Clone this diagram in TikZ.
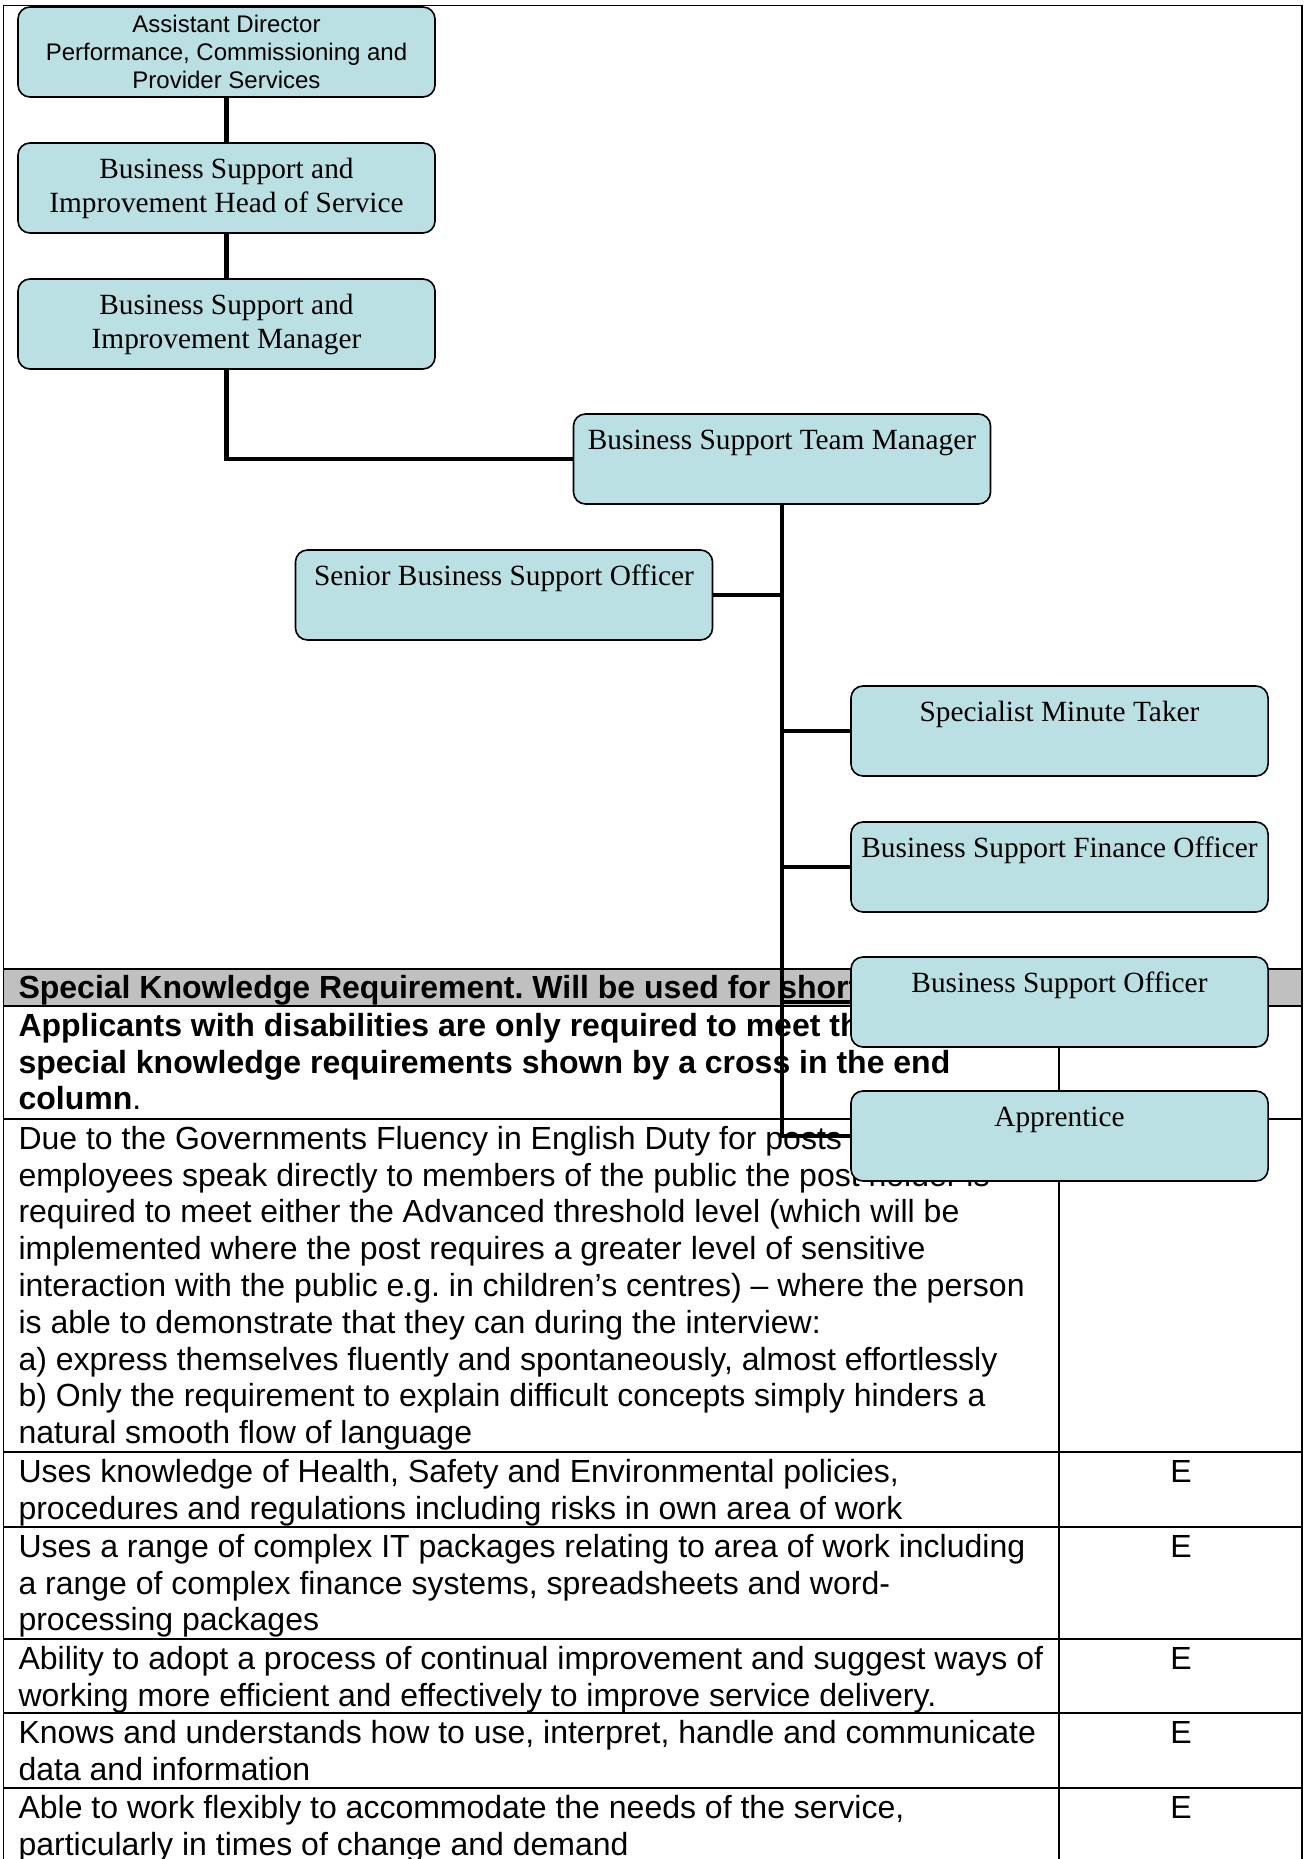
\documentclass[tikz,border=0pt]{standalone}
\usepackage{fontspec}
\setmainfont{Liberation Serif}
\newfontfamily\arialfont{Liberation Sans}
\usetikzlibrary{calc,positioning}
\frenchspacing
\definecolor{postfill}{RGB}{186,224,227}
\definecolor{headfill}{RGB}{192,192,192}
\newcommand{\postfont}{\fontsize{11pt}{12.75pt}\selectfont}
\newcommand{\chieffont}{\arialfont\fontsize{9pt}{10.35pt}\selectfont}
\newcommand{\cellfont}{\arialfont\fontsize{12pt}{13.8pt}\selectfont}
\tikzset{
post/.style={draw, line width=0.6pt, fill=postfill, rounded corners=4.5pt,
  minimum width=156.4pt, minimum height=33.75pt, inner sep=0pt, align=center, font=\postfont},
posttop/.style={post, text height=8pt, text depth=15.5pt},
link/.style={line width=1.8pt},
gridline/.style={line width=0.5pt},
cell/.style={anchor=north west, inner sep=0pt, align=left, font=\cellfont},
ecell/.style={anchor=base, inner sep=0pt, font=\cellfont}
}

\begin{document}
\begin{tikzpicture}[x=0.375pt, y=-0.375pt]
\useasboundingbox (0,0) rectangle (1304,1859);
\clip (0,0) rectangle (1304,1859);
%table behind the chart
\fill [headfill] (3.5,969) rectangle (1302,1006);
\draw [gridline] (3.5,5.5) -- (1302,5.5);
\draw [gridline] (3.5,5.5) -- (3.5,1859);
\draw [gridline] (1302,5.5) -- (1302,1859);
\foreach \y in {969,1006,1119}
  \draw [line width=0.8pt] (3.5,\y) -- (1302,\y);
\foreach \y in {1452,1527,1639,1713,1788}
  \draw [gridline] (3.5,\y) -- (1302,\y);
\draw [gridline] (1059,1006) -- (1059,1859);
\node [cell, font=\cellfont\bfseries] (head) at (18,972) {\strut Special Knowledge Requirement. Will be used for shortlisting};
\node [cell] (r2) at (18,1010) {\strut\textbf{Applicants with disabilities are only required to meet the}\\
  \textbf{special knowledge requirements shown by a cross in the end}\\
  \textbf{column}.};
\node [cell] (r3) at (18,1123) {\strut Due to the Governments Fluency in English Duty for posts where\\
  employees speak directly to members of the public the post holder is\\
  required to meet either the Advanced threshold level (which will be\\
  implemented where the post requires a greater level of sensitive\\
  interaction with the public e.g. in children’s centres) – where the person\\
  is able to demonstrate that they can during the interview:\\
  a) express themselves fluently and spontaneously, almost effortlessly\\
  b) Only the requirement to explain difficult concepts simply hinders a\\
  natural smooth flow of language};
\node [cell] (r4) at (18,1456) {\strut Uses knowledge of Health, Safety and Environmental policies,\\
  procedures and regulations including risks in own area of work};
\node [cell] (r5) at (18,1531) {\strut Uses a range of complex IT packages relating to area of work including\\
  a range of complex finance systems, spreadsheets and word-\\
  processing packages};
\node [cell] (r6) at (18,1643) {\strut Ability to adopt a process of continual improvement and suggest ways of\\
  working more efficient and effectively to improve service delivery.};
\node [cell] (r7) at (18,1717) {\strut Knows and understands how to use, interpret, handle and communicate\\
  data and information};
\node [cell] (r8) at (18,1792) {\strut Able to work flexibly to accommodate the needs of the service,\\
  particularly in times of change and demand};
\node [ecell] (e4) at (1181,1482) {E};
\node [ecell] (e5) at (1181,1557) {E};
\node [ecell] (e6) at (1181,1669) {E};
\node [ecell] (e7) at (1181,1743) {E};
\node [ecell] (e8) at (1181,1818) {E};
%the chart
\node [post, font=\chieffont] (ad) at (226.5,52) {Assistant Director\\ Performance, Commissioning and\\ Provider Services};
\node [post] (hos) at (226.5,188) {Business Support and\\ Improvement Head of Service};
\node [post] (bsim) at (226.5,324) {Business Support and\\ Improvement Manager};
\node [posttop] (tm) at (782,459) {Business Support Team Manager};
\node [posttop] (sbso) at (504,595) {Senior Business Support Officer};
\node [posttop] (smt) at (1059.5,731) {Specialist Minute Taker};
\node [posttop] (fin) at (1059.5,867) {Business Support Finance Officer};
\node [posttop] (bso) at (1059.5,1002) {Business Support Officer};
\node [posttop] (app) at (1059.5,1136) {Apprentice};
\draw [link] (ad.south) -- (hos.north);
\draw [link] (hos.south) -- (bsim.north);
\draw [link] (bsim.south) |- (tm.west);
\draw [link] (tm.south) |- (app.west);
\draw [link] (sbso.east) -- (sbso.east -| tm.south);
\draw [link] (smt.west) -- (smt.west -| tm.south);
\draw [link] (fin.west) -- (fin.west -| tm.south);
\draw [link] (bso.west) -- (bso.west -| tm.south);
\end{tikzpicture}
\end{document}
